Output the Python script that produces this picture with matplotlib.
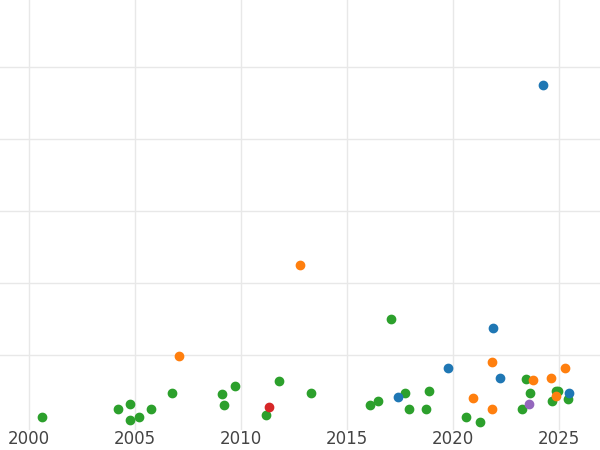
import matplotlib
matplotlib.use("Agg")
import matplotlib.pyplot as plt

green_x = [2000.61, 2004.20, 2004.76, 2004.76, 2005.19, 2005.75, 2006.75, 2009.10, 2009.20, 2009.72,
           2011.18, 2011.79, 2013.30, 2016.08, 2016.46, 2017.08, 2017.74, 2017.92, 2018.73, 2018.87,
           2020.61, 2021.27, 2023.25, 2023.44, 2023.63, 2024.67, 2024.86, 2024.95, 2025.42]
green_y = [0.15, 0.26, 0.32, 0.10, 0.15, 0.26, 0.47, 0.46, 0.31, 0.58,
           0.17, 0.64, 0.47, 0.31, 0.36, 1.51, 0.47, 0.26, 0.26, 0.51,
           0.14, 0.08, 0.26, 0.67, 0.47, 0.36, 0.50, 0.51, 0.39]
orange_x = [2007.08, 2012.78, 2020.94, 2021.84, 2021.84, 2023.77, 2024.62, 2024.86, 2025.28]
orange_y = [0.99, 2.25, 0.40, 0.90, 0.26, 0.65, 0.68, 0.44, 0.82]
blue_x = [2024.25, 2017.41, 2019.76, 2021.89, 2022.22, 2025.47]
blue_y = [4.75, 0.42, 0.83, 1.38, 0.68, 0.47]
red_x = [2011.32]
red_y = [0.28]
purple_x = [2023.58]
purple_y = [0.32]

fig = plt.figure(figsize=(6, 4.5), dpi=100)
ax = fig.add_axes([0, 0.044, 1, 0.956])

ax.scatter(green_x, green_y, s=36, color='#2ca02c', zorder=3)
ax.scatter(orange_x, orange_y, s=36, color='#ff7f0e', zorder=3)
ax.scatter(blue_x, blue_y, s=36, color='#1f77b4', zorder=3)
ax.scatter(red_x, red_y, s=36, color='#d62728', zorder=3)
ax.scatter(purple_x, purple_y, s=36, color='#9467bd', zorder=3)

ax.set_xlim(1998.63, 2026.93)
ax.set_ylim(-0.04, 5.93)
ax.set_xticks([2000, 2005, 2010, 2015, 2020, 2025])
ax.set_yticks([1, 2, 3, 4, 5])
ax.set_yticklabels([])
ax.grid(True, color='#e8e8e8', linewidth=1)
ax.set_axisbelow(True)
for s in ax.spines.values():
    s.set_visible(False)
ax.tick_params(length=0, labelsize=12, labelcolor='#444444', pad=0)

plt.savefig("out.png")
